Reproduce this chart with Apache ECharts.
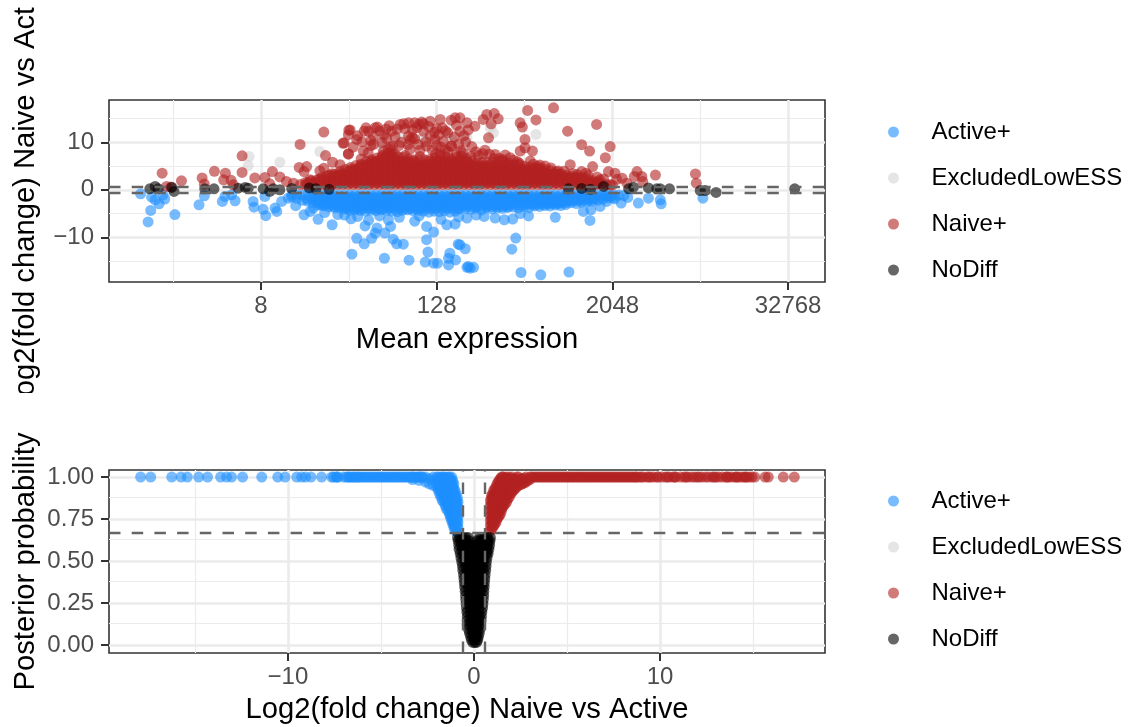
<!DOCTYPE html>
<html>
<head>
<meta charset="utf-8">
<title>MA and volcano plot</title>
<script src="https://cdn.jsdelivr.net/npm/echarts@6/dist/echarts.min.js"></script>
<style>
  html, body { margin: 0; background: #fff; }
  #chart { width: 1128px; height: 727px; }
</style>
</head>
<body>
<div id="chart"></div>
<script>
// Values. The mean axis is kept in log2 units.
const categories = ['Active+', 'ExcludedLowESS', 'Naive+', 'NoDiff'];
const categoryColors = ['#1e90ff', '#d3d3d3', '#b22222', '#000000'];

const meanTicks = [3, 7, 11, 15];
const meanMinor = [1, 5, 9, 13];
const foldTicks = [-10, 0, 10];
const foldMinor = [-15, -5, 5, 15];
const volcanoFoldTicks = [-10, 0, 10];
const volcanoFoldMinor = [-15, -5, 5, 15];
const probTicks = [0, 0.25, 0.5, 0.75, 1];
const probMinor = [0.125, 0.375, 0.625, 0.875];

// MA plot, single readable points
const maActive = [[0.26,-0.85],[0.43,-6.75],[0.49,-4.35],[0.51,-1.55],[0.68,-2.95],[0.59,-2.1],[0.81,-1.95],[0.77,-1.05],[1.04,-5.2],[1.59,-3.15],[1.71,-1.25],[2.12,-2.45],[2.18,-1.4],[2.41,-2.3],[2.33,-1.05],[2.82,-2.45],[2.84,-3.65],[3.05,-4.1],[3.11,-5.45],[3.36,-4.55],[3.32,-3.85],[3.09,-1.4],[3.47,-2.45],[3.62,-1.75],[3.79,-3.35],[3.98,-5.25],[4.3,-6.2],[4.62,-7.35],[4.12,-4.55],[4.19,-3.85],[5.07,-13.55],[5.18,-10.2],[5.35,-11.35],[5.81,-14.4],[5.52,-10.2],[5.6,-9.1],[5.82,-9.1],[6.01,-10.4],[6.09,-11.35],[6.24,-11.45],[6.37,-14.8],[5.95,-7.7],[5.37,-7.6],[5.64,-8.05],[6.74,-15.2],[6.93,-15.45],[7.02,-15.45],[6.8,-13.1],[6.77,-10.5],[6.93,-8.9],[6.77,-7.7],[7.27,-15.8],[7.3,-13.35],[7.27,-14.4],[7.43,-14.75],[7.49,-11.45],[7.65,-12.4],[7.69,-16.3],[7.76,-16.5],[7.42,-7.2],[7.23,-7.35],[7.53,-11.6],[7.72,-16.15],[7.84,-16.3],[8.8,-10.15],[8.71,-12.5],[8.92,-17.4],[9.37,-17.9],[10.01,-17.3],[7.69,-5.95],[8.08,-5.6],[8.33,-5.95],[8.54,-6.3],[8.73,-6.15],[9.09,-5.5],[9.7,-5.8],[10.49,-6.45],[10.34,-4.55],[10.51,-4.2],[11.2,-2.8],[11.59,-2.8],[11.82,-1.75],[12.11,-2.95],[12.09,-2.1],[13.06,-1.75],[10.72,-3.5],[10.87,-2.45],[11.35,-1.6],[11.05,-1.9],
  [4.9,-5.3],[5.05,-6.1],[5.2,-5.6],[5.45,-6.4],[5.7,-5.5],[5.9,-6.3],[6.15,-5.8],[6.5,-6.6],[6.6,-5.5],[7.1,-6.2],[7.5,-5.7],[7.9,-5.3],[4.45,-4.8],[4.75,-5.2],[8.9,-5.0]];
const maExcluded = [[2.73,7.0],[2.71,5.1],[3.43,5.8],[4.34,8.05],[5.75,8.85],[6.69,10.95],[5.78,10.3],[6.17,10.95],[7.34,10.6],[7.69,10.95],[8.29,12.0],[9.26,11.65],[8.22,13.05]];
const maNaive = [[0.75,3.5],[1.19,1.9],[0.85,0.7],[0.95,0.6],[1.66,2.5],[1.71,1.2],[1.94,3.9],[2.19,3.5],[2.15,2.1],[2.32,2.0],[2.37,1.05],[2.57,7.15],[2.57,3.65],[2.86,2.5],[3.09,2.6],[3.2,1.26],[3.26,3.85],[3.43,2.7],[3.89,9.55],[3.87,4.7],[4.04,4.9],[3.98,3.85],[3.58,1.75],[3.74,1.4],[4.12,2.1],[4.34,4.0],[4.43,4.55],[4.43,12.15],[4.47,7.2],[4.63,5.8],[4.8,5.3],[4.87,9.8],[4.99,7.5],[4.99,11.6],[5.03,12.6],[4.89,9.9],[5.0,12.55],[5.18,10.6],[5.35,12.35],[5.39,13.05],[5.65,13.2],[5.6,13.05],[5.92,13.5],[6.17,13.75],[6.36,14.1],[6.5,14.1],[6.66,14.25],[6.85,14.45],[7.08,14.8],[7.33,14.65],[5.98,12.35],[5.86,10.8],[5.56,11.3],[5.56,9.55],[5.44,7.8],[5.33,8.15],[4.99,7.6],[6.25,13.9],[6.36,11.3],[6.14,9.3],[6.58,9.55],[7.13,13.05],[6.96,10.6],[7.33,9.2],[7.08,7.45],[6.77,9.2],[5.79,8.15],[5.94,7.8],[6.39,8.5],[6.85,11.3],[9.66,17.25],[9.07,16.7],[9.26,14.7],[8.9,14.1],[8.95,13.2],[9.98,12.35],[9.01,10.6],[9.01,8.85],[8.9,8.15],[9.18,8.15],[8.18,10.95],[7.53,12.35],[7.87,13.4],[7.69,14.1],[7.42,15.15],[7.53,15.15],[8.14,15.85],[8.31,16.05],[8.4,14.95],[8.24,13.9],[8.06,14.8],[7.34,9.2],[7.66,10.05],[7.89,8.0],[8.1,8.35],[8.56,7.3],[8.67,6.75],[9.13,6.05],[10.04,5.3],[9.47,5.0],[9.77,3.95],[8.33,7.45],[10.64,13.75],[10.3,9.5],[10.48,8.15],[10.95,9.1],[10.84,6.75],[10.55,4.9],[11.56,3.85],[11.98,3.1],[12.89,3.35],[12.91,1.4],[11.67,2.8],[11.69,1.75],[11.5,2.8],[10.91,3.85],[11.06,3.5],[11.22,2.45],[11.33,1.4],[10.3,3.85],[10.95,1.05],[10.72,2.1],[5.28,6.5],[5.5,9.3],[6.05,7.5],[6.28,7.2],[6.62,7.0],[6.98,7.6],[7.2,8.4],[7.45,7.3],[7.6,7.8],[7.78,7.0],[8.42,6.6],[8.84,5.9],[9.3,4.9],[10.2,3.2],[10.45,3.0],
  [5.1,9.0],[5.2,11.4],[5.3,10.1],[5.45,12.3],[5.5,10.4],[5.7,12.4],[5.75,10.0],[5.8,11.6],[5.85,12.8],[6.0,9.2],[6.05,11.1],[6.1,12.8],[6.2,10],[6.28,12.9],[6.35,9.5],[6.45,12.6],[6.5,10.7],[6.55,13.1],[6.62,8.3],[6.7,12.3],[6.75,10.1],[6.82,13.3],[6.9,8.4],[6.95,12.1],[7.0,9.4],[7.05,11.6],[7.15,10.2],[7.2,12.4],[7.25,8.0],[7.4,11.1],[7.45,13.6],[7.5,9.6],[7.55,8.2],[7.62,11.4],[7.72,12.6],[7.8,9.1],[7.95,7.2],[8.05,7.6],[8.2,7.5],[8.3,6.6],[8.5,6.4],[8.75,6.2],[8.88,5.6],[9.2,5.4],[9.35,5.2],[9.6,4.6],[9.9,3.9],[10.1,3.4],[10.4,3.5],[10.65,2.7],[10.8,2.3],[11.1,2.2],
  [5.9,8.6],[5.95,9.0],[6.4,10.6],[6.45,11],[6.6,13.8],[6.7,13.9],[7.0,12.9],[7.1,9.0],[7.25,12.0]];
const maNoDiff = [[0.47,0.2],[0.59,0.7],[0.66,0.2],[0.97,0.5],[1.02,-0.35],[1.72,0.2],[1.93,0.2],[2.48,0.35],[2.64,0.5],[2.71,0.35],[3.05,0.2],[3.28,0.2],[3.2,-0.3],[3.43,0],[3.7,0.3],[4.1,0.4],[4.25,0.2],[4.55,0.1],[12.3,0.2],[12.09,0.2],[11.48,0.55],[11.82,0.4],[13,-0.15],[13.11,-0.15],[13.36,-0.55],[15.15,0.2],[10.8,0.7],[11.37,0.2],[12.01,0.2],[10,0.2],[10.3,0.3],[10.5,0.1]];

// MA plot, the solid masses: each row is [mean, fold, fold, ...]
const maNaiveColumns = [
  [3.9,1.1],[4.02,1.1,1.6],[4.14,1.1,1.9],[4.26,1.1,2],[4.38,1.1,2,2.6],[4.5,1.1,2,2.9],[4.62,1.1,2,2.9,3.4],
  [4.74,1.1,2,2.9,3],[4.86,1.1,2,2.9,3.3],[4.98,1.1,2,2.9,3.8],[5.1,1.1,2,2.9,3.8,4.2],[5.22,1.1,2,2.9,3.8,4.6],
  [5.34,1.1,2,2.9,3.8,4.7,4.9],[5.46,1.1,2,2.9,3.8,4.7,5.5],[5.58,1.1,2,2.9,3.8,4.7,5.6,5.8],[5.7,1.1,2,2.9,3.8,4.7,5.6,6.2],
  [5.82,1.1,2,2.9,3.8,4.7,5.6,6.5,6.7],[5.94,1.1,2,2.9,3.8,4.7,5.6,6.5,6.9],[6.06,1.1,2,2.9,3.8,4.7,5.6,6.3],[6.18,1.1,2,2.9,3.8,4.7,5.6,5.9],
  [6.3,1.1,2,2.9,3.8,4.7,5.8],[6.42,1.1,2,2.9,3.8,4.7,5.5],[6.54,1.1,2,2.9,3.8,4.7,5.3],[6.66,1.1,2,2.9,3.8,4.7,5.2],
  [6.78,1.1,2,2.9,3.8,4.7,5.4],[6.9,1.1,2,2.9,3.8,4.7,5.5],[7.02,1.1,2,2.9,3.8,4.7,5.6,5.8],[7.14,1.1,2,2.9,3.8,4.7,5.6,6],
  [7.26,1.1,2,2.9,3.8,4.7,5.8],[7.38,1.1,2,2.9,3.8,4.7,5.5],[7.5,1.1,2,2.9,3.8,4.7,5.6,6],[7.62,1.1,2,2.9,3.8,4.7,5.6,6.1],
  [7.74,1.1,2,2.9,3.8,4.7,5.5],[7.86,1.1,2,2.9,3.8,4.7,5],[7.98,1.1,2,2.9,3.8,4.8],[8.1,1.1,2,2.9,3.8,4.9],
  [8.22,1.1,2,2.9,3.8,4.7],[8.34,1.1,2,2.9,3.8,5],[8.46,1.1,2,2.9,3.8,4.8],[8.58,1.1,2,2.9,3.8,5.1],
  [8.7,1.1,2,2.9,3.8,4.7],[8.82,1.1,2,2.9,3.8,4.3],[8.94,1.1,2,2.9,3.8,4.4],[9.06,1.1,2,2.9,4],
  [9.18,1.1,2,2.9,4],[9.3,1.1,2,2.9,3.8],[9.42,1.1,2,2.9,3.7],[9.54,1.1,2,2.9,3.4],
  [9.66,1.1,2,2.9,3.3],[9.78,1.1,2,3.2],[9.9,1.1,2,2.7],[10.02,1.1,2,2.5],
  [10.14,1.1,2],[10.26,1.1,2.3],[10.38,1.1,1.9],[10.5,1.1,1.6],[10.62,1.1,1.3],[10.74,1.2],[10.86,1.1],[11,1],
  // second, offset pass that closes the gaps
  [4.08,1.5],[4.2,1.5],[4.32,1.5,2.2],[4.44,1.5,2.4],[4.56,1.5,2.4,3.1],[4.68,1.5,2.4,3.3],
  [4.8,1.5,2.4,3.3,3.9],[4.92,1.5,2.4,3.3,4.3],[5.04,1.5,2.4,3.3,4.2,4.7],[5.16,1.5,2.4,3.3,4.2,5.1],[5.28,1.5,2.4,3.3,4.2,5.1,5.4],[5.4,1.5,2.4,3.3,4.2,5.1,6],
  [5.52,1.5,2.4,3.3,4.2,5.1,6,6.3],[5.64,1.5,2.4,3.3,4.2,5.1,6,6.7],[5.76,1.5,2.4,3.3,4.2,5.1,6,6.9,7.2],[5.88,1.5,2.4,3.3,4.2,5.1,6,6.9,7.6],[6,1.5,2.4,3.3,4.2,5.1,6,6.9,7.4],[6.12,1.5,2.4,3.3,4.2,5.1,6,7],
  [6.24,1.5,2.4,3.3,4.2,5.1,6,6.8],[6.36,1.5,2.4,3.3,4.2,5.1,6,6.5],[6.48,1.5,2.4,3.3,4.2,5.1,6,6.3],[6.6,1.5,2.4,3.3,4.2,5.1,6.2],[6.72,1.5,2.4,3.3,4.2,5.1,6.3],[6.84,1.5,2.4,3.3,4.2,5.1,6,6.4],
  [6.96,1.5,2.4,3.3,4.2,5.1,6,6.7],[7.08,1.5,2.4,3.3,4.2,5.1,6,7],[7.2,1.5,2.4,3.3,4.2,5.1,6,6.9],[7.32,1.5,2.4,3.3,4.2,5.1,6,6.5],[7.44,1.5,2.4,3.3,4.2,5.1,6,6.8],[7.56,1.5,2.4,3.3,4.2,5.1,6,7.1],
  [7.68,1.5,2.4,3.3,4.2,5.1,6,6.6],[7.8,1.5,2.4,3.3,4.2,5.1,6],[7.92,1.5,2.4,3.3,4.2,5.1,5.7],[8.04,1.5,2.4,3.3,4.2,5.1,5.8],[8.16,1.5,2.4,3.3,4.2,5.1,5.8],[8.28,1.5,2.4,3.3,4.2,5.1,5.7],
  [8.4,1.5,2.4,3.3,4.2,5.1,5.9],[8.52,1.5,2.4,3.3,4.2,5.1,6],[8.64,1.5,2.4,3.3,4.2,5.1,5.6],[8.76,1.5,2.4,3.3,4.2,5.2],[8.88,1.5,2.4,3.3,4.2,5.2],[9,1.5,2.4,3.3,4.2,4.9],
  [9.12,1.5,2.4,3.3,4.2,4.8],[9.24,1.5,2.4,3.3,4.2,4.6],[9.36,1.5,2.4,3.3,4.2,4.5],[9.48,1.5,2.4,3.3,4.2],[9.6,1.5,2.4,3.3,4],[9.72,1.5,2.4,3.3,3.8],
  [9.84,1.5,2.4,3.3],[9.96,1.5,2.4,3.1],[10.08,1.5,2.4,2.8],[10.2,1.5,2.4,2.7],[10.32,1.5,2.6],[10.44,1.5,2.2],[10.56,1.5,1.9],[10.68,1.5,1.7]
];
const maActiveColumns = [
  [3.7,-1.1,-1.5],[3.82,-1.1,-1.8],[3.94,-1.1,-2.2],[4.06,-1.1,-1.9,-2.4],[4.18,-1.1,-1.9,-2.7],[4.3,-1.1,-1.9,-2.7,-3.2],[4.42,-1.1,-1.9,-2.7,-3.4],[4.54,-1.1,-1.9,-2.7,-3.6],
  [4.66,-1.1,-1.9,-2.7,-3.5,-3.7],[4.78,-1.1,-1.9,-2.7,-3.5,-3.8],[4.9,-1.1,-1.9,-2.7,-3.5,-4],[5.02,-1.1,-1.9,-2.7,-3.5,-4.3],[5.14,-1.1,-1.9,-2.7,-3.5,-4.2],[5.26,-1.1,-1.9,-2.7,-3.5,-4.3],[5.38,-1.1,-1.9,-2.7,-3.5,-4.5],[5.5,-1.1,-1.9,-2.7,-3.5,-4.3],
  [5.62,-1.1,-1.9,-2.7,-3.5,-4.4],[5.74,-1.1,-1.9,-2.7,-3.5,-4.2],[5.86,-1.1,-1.9,-2.7,-3.5,-4.3],[5.98,-1.1,-1.9,-2.7,-3.5,-4.5],[6.1,-1.1,-1.9,-2.7,-3.5,-4.6],[6.22,-1.1,-1.9,-2.7,-3.5,-4.3],[6.34,-1.1,-1.9,-2.7,-3.5,-4.2],[6.46,-1.1,-1.9,-2.7,-3.5,-4.4],
  [6.58,-1.1,-1.9,-2.7,-3.5,-4.3],[6.7,-1.1,-1.9,-2.7,-3.5,-4.5],[6.82,-1.1,-1.9,-2.7,-3.5,-4.7],[6.94,-1.1,-1.9,-2.7,-3.5,-4.5],[7.06,-1.1,-1.9,-2.7,-3.5,-4.6],[7.18,-1.1,-1.9,-2.7,-3.5,-4.4],[7.3,-1.1,-1.9,-2.7,-3.5,-4.7],[7.42,-1.1,-1.9,-2.7,-3.5,-4.5],
  [7.54,-1.1,-1.9,-2.7,-3.5,-4],[7.66,-1.1,-1.9,-2.7,-3.5,-3.9],[7.78,-1.1,-1.9,-2.7,-3.5,-4.1],[7.9,-1.1,-1.9,-2.7,-3.5,-3.8],[8.02,-1.1,-1.9,-2.7,-3.5,-4.2],[8.14,-1.1,-1.9,-2.7,-3.5,-3.7],[8.26,-1.1,-1.9,-2.7,-3.5,-4],[8.38,-1.1,-1.9,-2.7,-3.5,-3.8],
  [8.5,-1.1,-1.9,-2.7,-3.5,-3.9],[8.62,-1.1,-1.9,-2.7,-3.5,-3.7],[8.74,-1.1,-1.9,-2.7,-3.6],[8.86,-1.1,-1.9,-2.7,-3.8],[8.98,-1.1,-1.9,-2.7,-3.5],[9.1,-1.1,-1.9,-2.7,-3.7],[9.22,-1.1,-1.9,-2.7,-3.4],[9.34,-1.1,-1.9,-2.7,-3.5],
  [9.46,-1.1,-1.9,-2.7,-3.3],[9.58,-1.1,-1.9,-2.7,-3.4],[9.7,-1.1,-1.9,-2.7,-3.2],[9.82,-1.1,-1.9,-2.7,-3.3],[9.94,-1.1,-1.9,-2.7,-3.1],[10.06,-1.1,-1.9,-2.7],[10.18,-1.1,-1.9,-2.9],[10.3,-1.1,-1.9,-2.6],
  [10.42,-1.1,-1.9,-2.5],[10.54,-1.1,-1.9,-2.4],[10.66,-1.1,-2.2],[10.78,-1.1,-1.9],[10.9,-1.1,-1.7],[11.02,-1.1,-1.6],[11.14,-1.1],[11.26,-1.2],
  // second, offset pass that closes the gaps
  [4.24,-1.5,-2.3],[4.36,-1.5,-2.3,-3.1],[4.48,-1.5,-2.3,-3.1],[4.6,-1.5,-2.3,-3.1],[4.72,-1.5,-2.3,-3.1],[4.84,-1.5,-2.3,-3.1],[4.96,-1.5,-2.3,-3.1,-3.9],[5.08,-1.5,-2.3,-3.1,-3.9],
  [5.2,-1.5,-2.3,-3.1,-3.9],[5.32,-1.5,-2.3,-3.1,-3.9],[5.44,-1.5,-2.3,-3.1,-3.9],[5.56,-1.5,-2.3,-3.1,-3.9],[5.68,-1.5,-2.3,-3.1,-3.9],[5.8,-1.5,-2.3,-3.1,-3.9],[5.92,-1.5,-2.3,-3.1,-3.9],[6.04,-1.5,-2.3,-3.1,-3.9],
  [6.16,-1.5,-2.3,-3.1,-3.9],[6.28,-1.5,-2.3,-3.1,-3.9],[6.4,-1.5,-2.3,-3.1,-3.9],[6.52,-1.5,-2.3,-3.1,-3.9],[6.64,-1.5,-2.3,-3.1,-3.9],[6.76,-1.5,-2.3,-3.1,-3.9],[6.88,-1.5,-2.3,-3.1,-3.9],[7,-1.5,-2.3,-3.1,-3.9],
  [7.12,-1.5,-2.3,-3.1,-3.9],[7.24,-1.5,-2.3,-3.1,-3.9],[7.36,-1.5,-2.3,-3.1,-3.9],[7.48,-1.5,-2.3,-3.1,-3.9],[7.6,-1.5,-2.3,-3.1],[7.72,-1.5,-2.3,-3.1],[7.84,-1.5,-2.3,-3.1],[7.96,-1.5,-2.3,-3.1],
  [8.08,-1.5,-2.3,-3.1],[8.2,-1.5,-2.3,-3.1],[8.32,-1.5,-2.3,-3.1],[8.44,-1.5,-2.3,-3.1],[8.56,-1.5,-2.3,-3.1],[8.68,-1.5,-2.3,-3.1],[8.8,-1.5,-2.3,-3.1],[8.92,-1.5,-2.3,-3.1],
  [9.04,-1.5,-2.3,-3.1],[9.16,-1.5,-2.3,-3.1],[9.28,-1.5,-2.3,-3.1],[9.4,-1.5,-2.3,-3],[9.52,-1.5,-2.3,-3],[9.64,-1.5,-2.3,-2.9],[9.76,-1.5,-2.3,-2.9],[9.88,-1.5,-2.3],
  [10,-1.5,-2.3],[10.12,-1.5,-2.3],[10.24,-1.5,-2.3],[10.36,-1.5,-2.2],[10.48,-1.5,-2.1],[10.6,-1.5,-1.9],[10.72,-1.5],[10.84,-1.4],[10.96,-1.3]
];

// Volcano plot: the strip at probability 1 (fold values), then the filled shapes
const volcanoActiveStrip = [-17.92,-17.38,-16.25,-15.75,-15.41,-14.8,-14.32,-13.62,-13.3,-13.03,-12.44,-11.41,-10.55,-10.16,-9.53,-9.26,-9.05,-8.76,-8.19,-7.65,-7.38,-6.76,-6.6,-6.45,-6.25,-6.1,-5.9,-5.7,-5.5,-5.3,-5.1,-4.9,-4.7,-4.5,-4.3,-4.1,-3.9,-3.7,-3.5,-3.3,-3.1,-2.9,-2.75,-6.7,-6.5,-6.35,-6.2,-6,-5.8,-5.6,-5.4,-5.2,-5,-4.8,-4.6,-4.4,-4.2,-4,-3.8,-3.6,-3.4,-3.2,-3,-2.8,-7.4,-7.3,-7.55,-7,-6.85];
const volcanoNaiveStrip = [3.2,3.4,3.6,3.8,4,4.2,4.4,4.6,4.8,5,5.2,5.4,5.6,5.8,6,6.2,6.4,6.6,6.8,7,7.2,7.4,7.6,7.8,8,8.2,8.4,8.6,8.75,8.9,9.1,9.3,9.5,9.65,9.85,10.1,10.3,10.5,10.7,10.85,11.1,11.3,11.5,11.7,11.85,12,12.25,12.45,12.6,12.8,13,13.15,13.35,13.55,13.7,13.85,14.05,14.2,14.35,14.5,14.65,14.8,14.95,15.1,15.65,15.82,16.63,17.22,3.1,3.3,3.5,3.7,3.9,4.1,4.3,4.5,4.7,4.9,5.1,5.3,5.5,5.7,5.9,6.1,6.3,6.5,6.7,6.9,7.1,7.3,7.5,7.7,7.9,8.1,8.3,8.5,8.7,9,9.4,9.9,10.4,10.8,11.4,12.1,12.9,13.6,14.1,14.6];
const volcanoActiveColumns = [
  [-3.3,0.985,1],[-2.95,0.98,1],[-2.6,0.97,1],[-2.4,0.96,0.99],[-2.2,0.95,0.98,1],[-2,0.94,0.97,1],[-1.92,0.92,0.95,0.98,1],[-1.85,0.9,0.93,0.96,0.99],[-1.78,0.88,0.91,0.94,0.97,1],[-1.7,0.86,0.89,0.92,0.95,0.98,1],[-1.62,0.85,0.88,0.91,0.94,0.97,1],
  [-1.55,0.83,0.86,0.89,0.92,0.95,0.98,1],[-1.48,0.81,0.84,0.87,0.9,0.93,0.96,0.99],[-1.4,0.8,0.83,0.85,0.88,0.91,0.94,0.97,1],[-1.32,0.78,0.81,0.83,0.86,0.89,0.92,0.95,0.98,1],[-1.27,0.76,0.78,0.81,0.84,0.87,0.9,0.93,0.96,0.99],
  [-1.2,0.74,0.76,0.79,0.82,0.85,0.88,0.91,0.94,0.97,1],[-1.14,0.72,0.74,0.77,0.8,0.83,0.86,0.89,0.92,0.95,0.98],[-1.08,0.7,0.72,0.75,0.78,0.81,0.84,0.87,0.9,0.93,0.96],[-1.02,0.69,0.71,0.74,0.77,0.8,0.83,0.86,0.89,0.92],
  [-0.96,0.68,0.72,0.75,0.78,0.81,0.84,0.87,0.9],[-0.9,0.67,0.71,0.74,0.77,0.8,0.83,0.86,0.88],[-0.86,0.67,0.7,0.73,0.76,0.79,0.82,0.85]
];
const volcanoNaiveColumns = [
  [0.88,0.68,0.71,0.74,0.77,0.8,0.83,0.86],[0.94,0.69,0.72,0.75,0.78,0.81,0.84,0.87,0.89],[1,0.7,0.73,0.76,0.79,0.82,0.85,0.88,0.9],[1.06,0.71,0.74,0.77,0.8,0.83,0.86,0.89,0.92],[1.12,0.72,0.75,0.78,0.81,0.84,0.87,0.9,0.93],
  [1.18,0.73,0.76,0.79,0.82,0.85,0.88,0.91,0.94],[1.24,0.75,0.78,0.81,0.84,0.87,0.9,0.93,0.96],[1.3,0.76,0.79,0.82,0.85,0.88,0.91,0.94,0.97],[1.36,0.77,0.8,0.83,0.86,0.89,0.92,0.95,0.98],[1.42,0.78,0.81,0.84,0.87,0.9,0.93,0.96,0.99],[1.48,0.8,0.83,0.86,0.89,0.92,0.95,0.98,1],
  [1.54,0.82,0.85,0.88,0.91,0.94,0.97,1],[1.6,0.83,0.86,0.89,0.92,0.95,0.98,1],[1.68,0.84,0.87,0.9,0.93,0.96,0.99],[1.75,0.85,0.88,0.91,0.94,0.97,1],[1.82,0.87,0.9,0.93,0.96,0.99],[1.9,0.88,0.91,0.94,0.97,1],[1.98,0.9,0.93,0.96,0.99],[2.05,0.91,0.94,0.97,1],
  [2.12,0.92,0.95,0.98],[2.2,0.93,0.96,0.99],[2.3,0.94,0.97,1],[2.4,0.95,0.98,1],[2.5,0.955,0.985],[2.6,0.96,0.99],[2.7,0.965,0.995],[2.8,0.97,1],[2.9,0.98],[3,0.985,1]
];
// rows of the black funnel: [probability, fold, fold, ...]
const volcanoNoDiffRows = [
  [0.64,-0.88,-0.75,-0.6,-0.45,-0.3,0.3,0.44,0.58,0.72,0.88],
  [0.62,-0.85,-0.7,-0.55,-0.4,-0.25,0.15,0.3,0.45,0.6,0.75,0.86],
  [0.595,-0.82,-0.68,-0.54,-0.4,-0.26,-0.12,0.02,0.16,0.3,0.44,0.58,0.72,0.84],
  [0.57,-0.8,-0.62,-0.47,-0.32,-0.17,-0.02,0.13,0.28,0.43,0.58,0.7,0.8],
  [0.545,-0.74,-0.58,-0.44,-0.3,-0.16,-0.02,0.12,0.26,0.4,0.54,0.68,0.76],
  [0.52,-0.7,-0.51,-0.36,-0.21,-0.06,0.09,0.24,0.39,0.54,0.7],
  [0.495,-0.66,-0.48,-0.34,-0.2,-0.06,0.08,0.22,0.36,0.5,0.67],
  [0.47,-0.62,-0.43,-0.28,-0.13,0.02,0.17,0.32,0.47,0.65],
  [0.445,-0.6,-0.4,-0.25,-0.1,0.05,0.2,0.35,0.5,0.63],
  [0.42,-0.56,-0.37,-0.22,-0.07,0.08,0.23,0.38,0.6],
  [0.395,-0.54,-0.35,-0.2,-0.05,0.1,0.25,0.4,0.58],
  [0.37,-0.52,-0.32,-0.17,-0.02,0.13,0.28,0.43,0.56],
  [0.345,-0.5,-0.3,-0.15,0,0.15,0.3,0.45,0.55],
  [0.32,-0.47,-0.27,-0.12,0.03,0.18,0.33,0.53],
  [0.295,-0.45,-0.26,-0.11,0.04,0.19,0.34,0.52],
  [0.27,-0.44,-0.25,-0.1,0.05,0.2,0.35,0.5],
  [0.245,-0.42,-0.23,-0.08,0.07,0.22,0.37,0.48],
  [0.22,-0.4,-0.21,-0.06,0.09,0.24,0.46],
  [0.195,-0.38,-0.19,-0.04,0.11,0.26,0.42],
  [0.17,-0.36,-0.17,-0.02,0.13,0.28,0.4],
  [0.145,-0.36,-0.18,-0.03,0.12,0.27,0.38],
  [0.12,-0.36,-0.18,-0.03,0.12,0.27,0.36],
  [0.095,-0.3,-0.11,0.04,0.19,0.33],
  [0.07,-0.24,-0.05,0.1,0.28],
  [0.05,-0.18,-0.01,0.14,0.24],
  [0.03,-0.14,0.03,0.2],
  [0.015,-0.06,0.05,0.14]
];

function fromColumns(columns) {
  const out = [];
  columns.forEach(function (c) {
    for (let i = 1; i < c.length; i++) out.push([c[0], c[i]]);
  });
  return out;
}
function fromRows(rows) {
  const out = [];
  rows.forEach(function (r) {
    for (let i = 1; i < r.length; i++) out.push([r[i], r[0]]);
  });
  return out;
}
function strip(values) {
  return values.map(function (v) { return [v, 1]; });
}

const maData = [
  maActive.concat(fromColumns(maActiveColumns)),
  maExcluded,
  maNaive.concat(fromColumns(maNaiveColumns)),
  maNoDiff
];
const volcanoData = [
  strip(volcanoActiveStrip).concat(fromColumns(volcanoActiveColumns)),
  [],
  strip(volcanoNaiveStrip).concat(fromColumns(volcanoNaiveColumns)),
  fromRows(volcanoNoDiffRows)
];

const FONT = '"Liberation Sans", Arial, sans-serif';
const TICK_FONT = 24;
const TITLE_FONT = 29.2;
const minus = function (v) { return String(v).replace('-', '\u2212'); };

function makeAxis(opts) {
  return {
    type: 'value',
    gridIndex: opts.grid,
    min: opts.min,
    max: opts.max,
    name: opts.name,
    nameLocation: 'middle',
    nameGap: opts.gap,
    nameMoveOverlap: false,
    nameTextStyle: { fontFamily: FONT, fontSize: TITLE_FONT, color: '#000' },
    axisLine: { show: false, onZero: false },
    axisTick: { show: true, length: 8, customValues: opts.ticks, lineStyle: { color: '#333', width: 2 } },
    axisLabel: {
      show: true, customValues: opts.ticks, margin: opts.margin, hideOverlap: false,
      fontFamily: FONT, fontSize: TICK_FONT, color: '#4d4d4d', formatter: opts.format
    },
    splitLine: { show: false }
  };
}

function guideLine(axisKey, v) {
  const d = {};
  d[axisKey] = v;
  return d;
}

function gridLines(grid, xMajor, xMinor, yMajor, yMinor) {
  function lines(xs, ys, width) {
    return {
      type: 'scatter', xAxisIndex: grid, yAxisIndex: grid, data: [], z: 1, silent: true,
      markLine: {
        z: 1, silent: true, symbol: 'none', animation: false, label: { show: false },
        lineStyle: { color: '#ebebeb', width: width, type: 'solid' },
        emphasis: { disabled: true },
        data: xs.map(function (v) { return guideLine('xAxis', v); }).concat(ys.map(function (v) { return guideLine('yAxis', v); }))
      }
    };
  }
  return [lines(xMinor, yMinor, 1.2), lines(xMajor, yMajor, 2.6)];
}

function dashedLines(grid, xs, ys) {
  return {
    type: 'scatter', xAxisIndex: grid, yAxisIndex: grid, data: [], z: 6, silent: true,
    markLine: {
      z: 6, silent: true, symbol: 'none', animation: false, label: { show: false },
      lineStyle: { color: '#666666', width: 2.4, type: [11.5, 11.2] },
      emphasis: { disabled: true },
      data: xs.map(function (v) { return guideLine('xAxis', v); }).concat(ys.map(function (v) { return guideLine('yAxis', v); }))
    }
  };
}

function pointSeries(grid, sets) {
  return categories.map(function (name, i) {
    return {
      name: name,
      type: 'scatter',
      xAxisIndex: grid,
      yAxisIndex: grid,
      data: sets[i],
      symbol: 'circle',
      symbolSize: 11,
      z: 3,
      itemStyle: { color: categoryColors[i], opacity: 0.6 },
      emphasis: { disabled: true }
    };
  });
}

function makeLegend(top) {
  return {
    data: categories,
    orient: 'vertical',
    left: 883,
    top: top,
    itemWidth: 66,
    itemHeight: 11,
    itemGap: 20,
    icon: 'circle',
    selectedMode: false,
    textStyle: { fontFamily: FONT, fontSize: TICK_FONT, color: '#000', lineHeight: 26 }
  };
}

const chart = echarts.init(document.getElementById('chart'), null, { renderer: 'canvas' });
chart.setOption({
  animation: false,
  backgroundColor: '#fff',
  grid: [
    { left: 109, top: 100, width: 716, height: 182, show: true, borderColor: '#333', borderWidth: 1.6, backgroundColor: 'transparent', outerBoundsMode: 'none' },
    { left: 109, top: 470, width: 716, height: 183, show: true, borderColor: '#333', borderWidth: 1.6, backgroundColor: 'transparent', outerBoundsMode: 'none' }
  ],
  xAxis: [
    makeAxis({ grid: 0, min: -0.46, max: 15.84, ticks: meanTicks, margin: 12, name: 'Mean expression', gap: 43,
      format: function (v) { return String(Math.pow(2, v)); } }),
    makeAxis({ grid: 1, min: -19.62, max: 18.87, ticks: volcanoFoldTicks, margin: 12, name: 'Log2(fold change) Naive vs Active', gap: 42, format: minus })
  ],
  yAxis: [
    makeAxis({ grid: 0, min: -19.4, max: 18.9, ticks: foldTicks, margin: 15, name: 'Log2(fold change) Naive vs Active', gap: 69, format: minus }),
    makeAxis({ grid: 1, min: -0.048, max: 1.042, ticks: probTicks, margin: 15, name: 'Posterior probability', gap: 69,
      format: function (v) { return v.toFixed(2); } })
  ],
  legend: [makeLegend(114), makeLegend(483)],
  graphic: [
    // the first y title is cut off above and below, as in the source layout
    { type: 'rect', z: 100, shape: { x: 0, y: 0, width: 70, height: 7.5 }, style: { fill: '#fff' }, silent: true },
    { type: 'rect', z: 100, shape: { x: 0, y: 393, width: 70, height: 38 }, style: { fill: '#fff' }, silent: true }
  ],
  series: [].concat(
    gridLines(0, meanTicks, meanMinor, foldTicks, foldMinor),
    gridLines(1, volcanoFoldTicks, volcanoFoldMinor, probTicks, probMinor),
    pointSeries(0, maData),
    pointSeries(1, volcanoData),
    [dashedLines(0, [], [-0.585, 0.585]), dashedLines(1, [-0.585, 0.585], [0.667])]
  )
});
</script>
</body>
</html>
